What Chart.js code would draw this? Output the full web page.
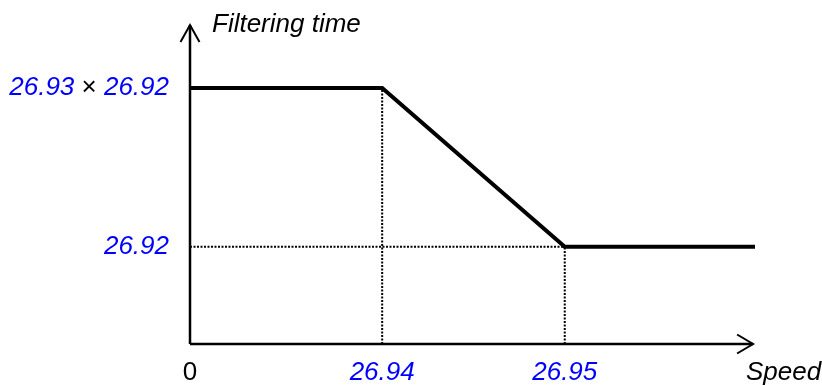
<!DOCTYPE html>
<html lang="en">

<head>
  <meta charset="UTF-8" />
  <title>Filtering time vs speed</title>
  <script src="https://cdn.jsdelivr.net/npm/chart.js"></script>
  <style>
    body {
      margin: 0;
      background: #ffffff;
    }

    .wrap {
      position: relative;
      width: 822px;
      height: 385px;
    }
  </style>
</head>

<body>
  <div class="wrap">
    <canvas id="filterChart"></canvas>
  </div>

  <script>
    // curve breakpoints (abstract units, 26.94 speed = 1)
    const speed = [0, 1.0, 1.95, 2.94];
    const filterTime = [1.0, 1.0, 0.38, 0.38];

    // tick positions and labels
    const xTickValues = [0, 1.0, 1.95];
    const xTickLabels = ['0', '26.94', '26.95'];
    const xTickBlue = [false, true, true];
    const yTickValues = [1.0, 0.38];
    const yTickLabels = [['26.93', ' × ', '26.92'], ['26.92']];

    const xAxisTitle = 'Speed';
    const yAxisTitle = 'Filtering time';

    const xMax = 2.94;
    const xArrow = 2.93;
    const yMax = 1.246;

    const BLUE = '#0000ff';
    const FONT = '"Liberation Sans", Arial, sans-serif';

    function pts(xs, ys) {
      return xs.map((x, i) => ({ x: x, y: ys[i] }));
    }

    // dotted guide lines from the breakpoints
    const guideV1 = pts([speed[1], speed[1]], [0, filterTime[1]]);
    const guideV2 = pts([speed[2], speed[2]], [0, filterTime[2]]);
    const guideH = pts([0, speed[2]], [filterTime[2], filterTime[2]]);

    const guideStyle = {
      borderColor: '#000',
      borderWidth: 2,
      borderDash: [2, 1.5],
      pointRadius: 0,
      fill: false
    };

    const axesPlugin = {
      id: 'axes',
      beforeDatasetsDraw(chart) {
        const ctx = chart.ctx;
        const x = chart.scales.x, y = chart.scales.y;
        const ox = x.getPixelForValue(0), oy = y.getPixelForValue(0);
        const tx = x.getPixelForValue(xArrow), ty = y.getPixelForValue(yMax);
        ctx.save();
        ctx.strokeStyle = '#000';
        ctx.lineWidth = 2.5;
        ctx.beginPath();
        ctx.moveTo(ox, oy); ctx.lineTo(tx, oy);
        ctx.moveTo(ox, oy); ctx.lineTo(ox, ty);
        ctx.stroke();
        // arrow heads
        ctx.lineWidth = 2;
        ctx.beginPath();
        ctx.moveTo(ox - 9.5, ty + 17); ctx.lineTo(ox, ty); ctx.lineTo(ox + 9.5, ty + 17);
        ctx.moveTo(tx - 16, oy - 9.5); ctx.lineTo(tx, oy); ctx.lineTo(tx - 16, oy + 9.5);
        ctx.stroke();
        ctx.restore();
      }
    };

    const labelPlugin = {
      id: 'labels',
      afterDraw(chart) {
        const ctx = chart.ctx;
        const x = chart.scales.x, y = chart.scales.y;
        const italic = 'italic 26px ' + FONT;
        const plain = '26px ' + FONT;
        ctx.save();
        ctx.textBaseline = 'alphabetic';

        // x ticks
        ctx.textAlign = 'center';
        xTickValues.forEach((v, i) => {
          ctx.font = xTickBlue[i] ? italic : plain;
          ctx.fillStyle = xTickBlue[i] ? BLUE : '#000';
          ctx.fillText(xTickLabels[i], x.getPixelForValue(v), 380);
        });

        // y ticks, parts: value (blue italic), operator (black)
        ctx.textAlign = 'left';
        yTickValues.forEach((v, i) => {
          const parts = yTickLabels[i];
          const fonts = parts.map((p, j) => (j % 2 === 0 ? italic : plain));
          let total = 0;
          parts.forEach((p, j) => { ctx.font = fonts[j]; total += ctx.measureText(p).width; });
          let cx = 169 - total;
          const by = y.getPixelForValue(v) + 7;
          parts.forEach((p, j) => {
            ctx.font = fonts[j];
            ctx.fillStyle = j % 2 === 0 ? BLUE : '#000';
            ctx.fillText(p, cx, by);
            cx += ctx.measureText(p).width;
          });
        });

        // axis titles
        ctx.font = italic;
        ctx.fillStyle = '#000';
        ctx.fillText(yAxisTitle, 212, 32);
        ctx.fillText(xAxisTitle, 746, 380);
        ctx.restore();
      }
    };

    new Chart(document.getElementById('filterChart'), {
      type: 'line',
      data: {
        datasets: [
          { data: guideV1, ...guideStyle, order: 2 },
          { data: guideV2, ...guideStyle, order: 2 },
          { data: guideH, ...guideStyle, order: 2 },
          {
            data: pts(speed, filterTime),
            borderColor: '#000',
            borderWidth: 4,
            borderJoinStyle: 'miter',
            pointRadius: 0,
            tension: 0,
            fill: false,
            order: 1
          }
        ]
      },
      options: {
        responsive: true,
        maintainAspectRatio: false,
        animation: false,
        layout: {
          padding: { left: 190, right: 67, top: 25, bottom: 41 }
        },
        scales: {
          x: { type: 'linear', min: 0, max: xMax, display: false },
          y: { type: 'linear', min: 0, max: yMax, display: false }
        },
        plugins: {
          legend: { display: false },
          tooltip: { enabled: false }
        }
      },
      plugins: [axesPlugin, labelPlugin]
    });
  </script>
</body>

</html>
